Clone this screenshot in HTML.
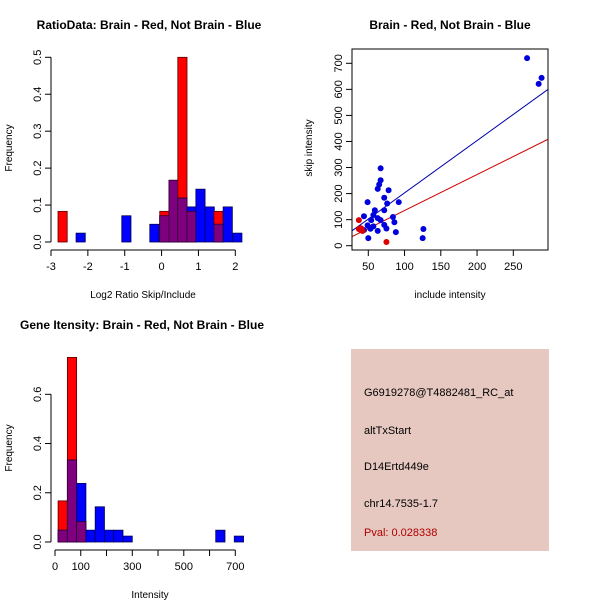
<!DOCTYPE html>
<html><head><meta charset="utf-8"><style>
body{margin:0;background:#fff}
svg{display:block;font-family:"Liberation Sans",Arial,sans-serif}
</style></head><body>
<svg id="c" width="600" height="600" viewBox="0 0 600 600">
<rect width="600" height="600" fill="#fff"/>
<g id="p1"></g>
<g id="p2"></g>
<g id="p3"></g>
<g>
<rect x="351" y="349" width="198" height="202" fill="#e6c8c0"/>
<text x="364" y="396" font-size="11" fill="#000">G6919278@T4882481_RC_at</text>
<text x="364" y="434" font-size="11" fill="#000">altTxStart</text>
<text x="364" y="470" font-size="11" fill="#000">D14Ertd449e</text>
<text x="364" y="507" font-size="11" fill="#000">chr14.7535-1.7</text>
<text x="364" y="536" font-size="11" fill="#b00000">Pval: 0.028338</text>
</g>
</svg>
<script>
// Ratio histogram data
const ratioBinStarts = [-2.81, -2.32, -1.08, -0.32, -0.05, 0.2, 0.44, 0.69, 0.93, 1.18, 1.42, 1.67, 1.93];
const ratioRed  = [0.083, 0, 0, 0, 0.083, 0.167, 0.5, 0.083, 0, 0, 0.083, 0, 0];
const ratioBlue = [0, 0.024, 0.071, 0.048, 0.071, 0.167, 0.119, 0.095, 0.143, 0.095, 0.048, 0.095, 0.024];
const ratioXTicks = [-3, -2, -1, 0, 1, 2];
const ratioYTicks = [0, 0.1, 0.2, 0.3, 0.4, 0.5];
// Intensity histogram data
const intBinStarts = [12, 48, 84, 120, 156, 192, 228, 264, 624, 696];
const intRed  = [0.167, 0.75, 0.083, 0, 0, 0, 0, 0, 0, 0];
const intBlue = [0.048, 0.333, 0.238, 0.048, 0.143, 0.048, 0.048, 0.024, 0.048, 0.024];
const intXTicks = [0, 100, 200, 300, 400, 500, 600, 700];
const intXLabels = ["0", "100", "", "300", "", "500", "", "700"];
const intYTicks = [0, 0.2, 0.4, 0.6];
// Scatter data
const blueInclude = [269,289,285,67,67,65,63,78,72,76,49,92,59,72,44,57,63,84,67,86,54,72,49,75,63,53,44,88,50,126,125,42,57];
const blueSkip    = [720,644,621,297,251,235,218,213,184,162,167,167,136,136,113,118,106,110,98,90,98,80,78,66,57,65,60,52,29,64,29,57,74];
const redInclude = [37,75,39,40,37,42];
const redSkip    = [98,14,61,67,64,57];
const blueFit = [2, 2.007];   // intercept, slope
const redFit  = [-3.2, 1.382];
const scXTicks = [50, 100, 150, 200, 250];
const scYTicks = [0, 100, 200, 300, 400, 500, 600, 700];

const NS = "http://www.w3.org/2000/svg";
function mk(parent, tag, attrs, text) {
  const e = document.createElementNS(NS, tag);
  for (const k in attrs) e.setAttribute(k, attrs[k]);
  if (text !== undefined) e.textContent = text;
  parent.appendChild(e);
  return e;
}
function lin(d0, d1, r0, r1) { return v => r0 + (v - d0) * (r1 - r0) / (d1 - d0); }

function histogram(g, o) {
  const x = o.x, y = o.y;
  for (let i = 0; i < o.starts.length; i++) {
    const x0 = x(o.starts[i]), x1 = x(o.starts[i] + o.width);
    const r = o.red[i], b = o.blue[i], m = Math.min(r, b);
    if (r > 0) {
      const e = mk(g, "rect", {x: x0, y: y(r), width: x1 - x0, height: y(0) - y(r), fill: "#ff0000", stroke: "#550000", "stroke-width": 0.8});
      
      
    }
    if (b > 0) {
      const e = mk(g, "rect", {x: x0, y: y(b), width: x1 - x0, height: y(0) - y(b), fill: "#0000ff", stroke: "#000055", "stroke-width": 0.8});
      
      
    }
    if (m > 0) {
      const e = mk(g, "rect", {x: x0, y: y(m), width: x1 - x0, height: y(0) - y(m), fill: "#7f007f", stroke: "#330033", "stroke-width": 0.8});
      
      
    }
  }
  // axes
  const ya = mk(g, "line", {x1: o.axX, x2: o.axX, y1: y(o.yTicks[0]), y2: y(o.yTicks[o.yTicks.length - 1]), stroke: "#000"});
  
  
  o.yTicks.forEach(t => {
    mk(g, "line", {x1: o.axX - 6, x2: o.axX, y1: y(t), y2: y(t), stroke: "#000"});
    const tx = mk(g, "text", {x: 0, y: 0, "font-size": 11, "text-anchor": "middle", transform: `translate(${o.axX - 10},${y(t)}) rotate(-90)`}, String(t.toFixed(1)));
    
    
  });
  const xa = mk(g, "line", {x1: x(o.xTicks[0]), x2: x(o.xTicks[o.xTicks.length - 1]), y1: o.axY, y2: o.axY, stroke: "#000"});
  
  
  o.xTicks.forEach((t, i) => {
    mk(g, "line", {x1: x(t), x2: x(t), y1: o.axY, y2: o.axY + 6, stroke: "#000"});
    const lbl = o.xLabels ? o.xLabels[i] : String(t);
    if (lbl) {
      const tx = mk(g, "text", {x: x(t), y: o.axY + 20, "font-size": 11, "text-anchor": "middle"}, lbl);
      
      
    }
  });
  const t = mk(g, "text", {x: o.titleX, y: o.titleY, "font-size": 12, "font-weight": "bold", "text-anchor": "middle"}, o.title);
  
  
  const xl = mk(g, "text", {x: o.xLabX, y: o.xLabY, "font-size": 10, "text-anchor": "middle"}, o.xLabel);
  
  
  const yl = mk(g, "text", {x: 0, y: 0, "font-size": 10, "text-anchor": "middle", transform: `translate(12,${o.yLabY}) rotate(-90)`}, "Frequency");
  
  
}

histogram(document.getElementById("p1"), {
  starts: ratioBinStarts, width: 0.25, red: ratioRed, blue: ratioBlue,
  x: lin(-3, 2, 51, 235.3), y: lin(0, 0.5, 242, 57.3),
  xTicks: ratioXTicks, yTicks: ratioYTicks, axX: 51, axY: 250,
  title: "RatioData: Brain - Red, Not Brain - Blue", titleX: 149, titleY: 29,
  xLabel: "Log2 Ratio Skip/Include", xLabX: 143, xLabY: 298, yLabY: 148
});
histogram(document.getElementById("p3"), {
  starts: intBinStarts, width: 36, red: intRed, blue: intBlue,
  x: lin(0, 700, 55, 235.3), y: lin(0, 0.6, 542, 394.3),
  xTicks: intXTicks, xLabels: intXLabels, yTicks: intYTicks, axX: 51, axY: 550,
  title: "Gene Itensity: Brain - Red, Not Brain - Blue", titleX: 142, titleY: 329,
  xLabel: "Intensity", xLabX: 150, xLabY: 598, yLabY: 448
});

// Scatter
(function () {
  const g = document.getElementById("p2");
  const x = lin(50, 250, 368.3, 513.3), y = lin(0, 700, 245.7, 63.3);
  const L = 352, R = 548, T = 49, B = 250;
  const box = mk(g, "rect", {x: L, y: T, width: R - L, height: B - T, fill: "none", stroke: "#000"});
  
  
  scXTicks.forEach(t => {
    mk(g, "line", {x1: x(t), x2: x(t), y1: B, y2: B + 6, stroke: "#000"});
    const tx = mk(g, "text", {x: x(t), y: B + 20, "font-size": 11, "text-anchor": "middle"}, String(t));
    
    
  });
  scYTicks.forEach(t => {
    mk(g, "line", {x1: L - 6, x2: L, y1: y(t), y2: y(t), stroke: "#000"});
    const tx = mk(g, "text", {x: 0, y: 0, "font-size": 11, "text-anchor": "middle", transform: `translate(${L - 10},${y(t)}) rotate(-90)`}, String(t));
    
    
  });
  const clip = mk(g, "clipPath", {id: "scClip"});
  mk(clip, "rect", {x: L, y: T, width: R - L, height: B - T});
  const xMin = 28, xMax = 298;
  [[blueFit, "#0000aa", "blue-fit-line"], [redFit, "#cc0000", "red-fit-line"]].forEach(([f, c, n]) => {
    const l = mk(g, "line", {x1: x(xMin), y1: y(f[0] + f[1] * xMin), x2: x(xMax), y2: y(f[0] + f[1] * xMax), stroke: c, "stroke-width": 1, "clip-path": "url(#scClip)"});
    
    
  });
  blueInclude.forEach((v, i) => {
    const p = mk(g, "circle", {cx: x(v), cy: y(blueSkip[i]), r: 3, fill: "#0000dd"});
    
    
  });
  redInclude.forEach((v, i) => {
    const p = mk(g, "circle", {cx: x(v), cy: y(redSkip[i]), r: 3, fill: "#dd0000"});
    
    
  });
  const t = mk(g, "text", {x: 450, y: 29, "font-size": 12, "font-weight": "bold", "text-anchor": "middle"}, "Brain - Red, Not Brain - Blue");
  
  
  const xl = mk(g, "text", {x: 450, y: 298, "font-size": 10, "text-anchor": "middle"}, "include intensity");
  
  
  const yl = mk(g, "text", {x: 0, y: 0, "font-size": 10, "text-anchor": "middle", transform: `translate(312,148) rotate(-90)`}, "skip intensity");
  
  
})();
</script>
</body></html>
